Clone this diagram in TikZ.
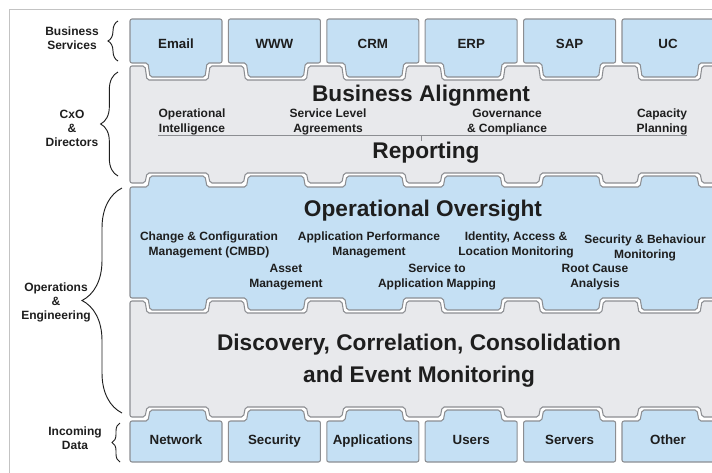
\documentclass[tikz,border=0pt]{standalone}
\usepackage{fontspec}
\setmainfont{Liberation Sans}
\usetikzlibrary{decorations.pathreplacing}
\definecolor{tileblue}{RGB}{197,224,244}
\definecolor{panelgray}{RGB}{232,233,236}
\definecolor{edgegray}{RGB}{140,142,146}
\definecolor{framegray}{RGB}{195,195,195}
\definecolor{inkgray}{RGB}{30,30,30}

\begin{document}
\begin{tikzpicture}[x=0.75pt,y=-0.75pt,
  tile/.style={draw=edgegray,line width=0.8pt,fill=tileblue,rounded corners=1.5pt},
  slab/.style={draw=edgegray,line width=0.8pt,fill=panelgray,rounded corners=1.5pt},
  tilelabel/.style={text=inkgray,anchor=base,font=\bfseries\fontsize{10}{12}\selectfont},
  title/.style={text=inkgray,font=\bfseries\fontsize{17}{24}\selectfont,align=center},
  item/.style={text=inkgray,font=\bfseries\fontsize{9}{10.8}\selectfont,align=center},
  side/.style={text=inkgray,font=\bfseries\fontsize{9}{10.5}\selectfont,align=center},
  curly/.style={draw=inkgray,decorate,decoration={brace,amplitude=#1},line width=0.7pt}]

\useasboundingbox (0,0) rectangle (712,472);
\clip (0,0) rectangle (712,472);
\draw[framegray,line width=0.8pt] (9.5,9.5) rectangle (740,500);

% business services
\foreach \name/\txt [count=\i from 0] in {email/Email,www/WWW,crm/CRM,erp/ERP,sap/SAP,uc/UC} {
  \draw[tile] ({130+98.4*\i},19) -- ++(92,0) -- ++(0,44) -- ++(-15,0) -- ++(-2,14) -- ++(-55,0) -- ++(-2,-14) -- ++(-18,0) -- cycle;
  \node[tilelabel] (\name) at ({176+98.4*\i},48) {\txt};
}

% business alignment / reporting
\draw[slab] (130,66) \foreach \i in {0,...,5} { -- ({145+98.4*\i},66) -- ++(2,14) -- ++(61,0) -- ++(2,-14) } -- (740,66)
  -- (740,183) \foreach \i in {5,4,...,0} { -- ({210+98.4*\i},183) -- ++(-2,-10) -- ++(-61,0) -- ++(-2,10) } -- (130,183) -- cycle;

% operational oversight
\draw[tile] (130,187) \foreach \i in {0,...,5} { -- ({148+98.4*\i},187) -- ++(2,-11) -- ++(55,0) -- ++(2,11) } -- (740,187)
  -- (740,298) \foreach \i in {5,4,...,0} { -- ({207+98.4*\i},298) -- ++(-2,12) -- ++(-55,0) -- ++(-2,-12) } -- (130,298) -- cycle;

% discovery
\draw[slab] (130,301) \foreach \i in {0,...,5} { -- ({145+98.4*\i},301) -- ++(2,12) -- ++(61,0) -- ++(2,-12) } -- (740,301)
  -- (740,417) \foreach \i in {5,4,...,0} { -- ({210+98.4*\i},417) -- ++(-2,-10) -- ++(-61,0) -- ++(-2,10) } -- (130,417) -- cycle;

% incoming data
\foreach \name/\txt [count=\i from 0] in {network/Network,security/Security,apps/Applications,users/Users,servers/Servers,other/Other} {
  \draw[tile] ({130+98.4*\i},462) -- ++(0,-41) -- ++(18,0) -- ++(2,-11) -- ++(55,0) -- ++(2,11) -- ++(15,0) -- ++(0,41) -- cycle;
  \node[tilelabel] (\name) at ({176+98.4*\i},444) {\txt};
}

% panel texts
\node[title] (align) at (421,96) {Business Alignment};
\node[item] (opint) at (192,122) {Operational\\Intelligence};
\node[item] (sla) at (328,122) {Service Level\\Agreements};
\node[item] (gov) at (507,122) {Governance\\\& Compliance};
\node[item] (cap) at (662,122) {Capacity\\Planning};
\draw[edgegray,line width=0.7pt] (158,135) -- (687,135) (421,135) -- (421,141);
\node[title] (report) at (426,153) {Reporting};

\node[title] (oversight) at (423,211) {Operational Oversight};
\node[item] (cmdb) at (209,245) {Change \& Configuration\\Management (CMBD)};
\node[item] (apm) at (369,245) {Application Performance\\Management};
\node[item] (iam) at (516,245) {Identity, Access \&\\Location Monitoring};
\node[item] (secmon) at (645,248) {Security \& Behaviour\\Monitoring};
\node[item] (asset) at (286,277) {Asset\\Management};
\node[item] (svcmap) at (437,277) {Service to\\Application Mapping};
\node[item] (rca) at (595,277) {Root Cause\\Analysis};

\node[title] (discovery) at (419,361) {Discovery, Correlation, Consolidation\\and Event Monitoring};

% side labels
\node[side] (bizsvc) at (72,38) {Business\\Services};
\node[side] (cxo) at (72,128) {CxO\\\&\\Directors};
\node[side] (ops) at (56,302) {Operations\\\&\\Engineering};
\node[side] (incoming) at (75,438) {Incoming\\Data};
\draw[curly=7.5pt] (118,61) -- (118,21);
\draw[curly=13pt] (118,176) -- (118,72);
\draw[curly=30pt] (122,413) -- (122,188);
\draw[curly=6pt] (120,462) -- (120,423);
\end{tikzpicture}
\end{document}
